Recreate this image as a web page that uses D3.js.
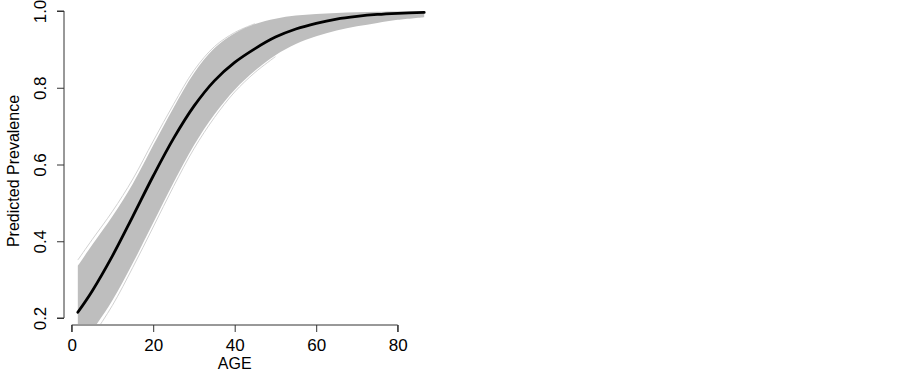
<!DOCTYPE html>
<html>
<head>
<meta charset="utf-8">
<script src="https://cdn.jsdelivr.net/npm/d3@7/dist/d3.min.js"></script>
<style>
  html, body { margin: 0; padding: 0; background: #fff; }
  svg { display: block; font-family: "Liberation Sans", Arial, Helvetica, sans-serif; }
</style>
</head>
<body>
<svg id="chart" width="903" height="372"></svg>
<script>
// ---- data ----
const ages     = [1.5, 5, 10, 15, 20, 25, 30, 35, 40, 45, 50, 55, 60, 65, 70, 75, 80, 86.5];
const fit      = [0.215, 0.27, 0.362, 0.465, 0.57, 0.668, 0.752, 0.818, 0.866, 0.902, 0.932, 0.953, 0.968, 0.979, 0.986, 0.991, 0.994, 0.9965];
const upper    = [0.336, 0.39, 0.465, 0.55, 0.65, 0.748, 0.838, 0.903, 0.942, 0.966, 0.98, 0.988, 0.992, 0.995, 0.997, 0.998, 0.9985, 0.999];
const lower    = [0.127, 0.168, 0.246, 0.343, 0.448, 0.553, 0.65, 0.73, 0.795, 0.845, 0.885, 0.914, 0.934, 0.949, 0.96, 0.969, 0.977, 0.984];
const upperOut = [0.351, 0.404, 0.478, 0.562, 0.661, 0.757, 0.845, 0.907, 0.944, 0.967, 0.98, 0.988, 0.992, 0.995, 0.997, 0.998, 0.9985, 0.999];
const lowerOut = [0.105, 0.152, 0.233, 0.332, 0.437, 0.543, 0.641, 0.722, 0.789, 0.84, 0.881, 0.911, 0.932, 0.947, 0.959, 0.968, 0.976, 0.983];
const xTicks   = [0, 20, 40, 60, 80];
const yTicks   = [0.2, 0.4, 0.6, 0.8, 1.0];
const xLabel   = "AGE";
const yLabel   = "Predicted Prevalence";

// ---- layout ----
const svg = d3.select("#chart");
const x = d3.scaleLinear().domain([0, 80]).range([71.7, 397.7]);
const y = d3.scaleLinear().domain([0.2, 1.0]).range([318, 11]);
const plotLeft = 64, plotRight = 439, plotTop = 0, plotBottom = 324;

svg.append("clipPath").attr("id", "plotclip")
  .append("rect")
  .attr("x", plotLeft).attr("y", plotTop)
  .attr("width", plotRight - plotLeft).attr("height", plotBottom - plotTop);

const g = svg.append("g").attr("clip-path", "url(#plotclip)");

const rows = ages.map((a, i) => ({a, fit: fit[i], up: upper[i], lo: lower[i], uo: upperOut[i], lo2: lowerOut[i]}));
const curve = d3.curveCatmullRom.alpha(0.5);

const area = d3.area()
  .x(d => x(d.a))
  .y0(d => y(d.lo))
  .y1(d => y(d.up))
  .curve(curve);

const lineOf = key => d3.line().x(d => x(d.a)).y(d => y(d[key])).curve(curve);

g.append("path").datum(rows.filter(d => d.a <= 45))
  .attr("d", lineOf("uo"))
  .attr("fill", "none").attr("stroke", "#d2d2d2").attr("stroke-width", 1);

g.append("path").datum(rows.filter(d => d.a <= 50))
  .attr("d", lineOf("lo2"))
  .attr("fill", "none").attr("stroke", "#d2d2d2").attr("stroke-width", 1);

g.append("path").datum(rows)
  .attr("d", area)
  .attr("fill", "#bebebe");

g.append("path").datum(rows)
  .attr("d", lineOf("fit"))
  .attr("fill", "none").attr("stroke", "#000").attr("stroke-width", 2.8)
  .attr("stroke-linecap", "round");

// ---- axes ----
const axisColor = "#333";
const xAxis = svg.append("g").attr("transform", `translate(0,325)`)
  .call(d3.axisBottom(x).tickValues(xTicks).tickSize(7).tickFormat(d3.format("d")));
xAxis.selectAll("path, line").attr("stroke", axisColor);
xAxis.select(".domain").attr("d", `M${x(0)},7V0H${x(80)}V7`);
xAxis.selectAll("text").attr("font-size", 17).attr("fill", "#000")
  .attr("font-family", "Liberation Sans, Arial, sans-serif")
  .attr("dy", null).attr("y", 26);

const yAxis = svg.append("g").attr("transform", `translate(64,0)`)
  .call(d3.axisLeft(y).tickValues(yTicks).tickSize(7).tickFormat(d3.format(".1f")));
yAxis.selectAll("path, line").attr("stroke", axisColor);
yAxis.select(".domain").attr("d", `M-7,${y(0.2)}H0V${y(1.0)}H-7`);
yAxis.selectAll(".tick text")
  .attr("font-size", 17).attr("fill", "#000")
  .attr("font-family", "Liberation Sans, Arial, sans-serif")
  .attr("x", null).attr("dy", null)
  .attr("text-anchor", "middle")
  .attr("transform", "translate(-18,0) rotate(-90)");

svg.append("text")
  .attr("x", x(40)).attr("y", 369)
  .attr("text-anchor", "middle")
  .attr("font-size", 16)
  .text(xLabel);

svg.append("text")
  .attr("transform", "translate(19,171) rotate(-90)")
  .attr("text-anchor", "middle")
  .attr("font-size", 16)
  .text(yLabel);
</script>
</body>
</html>
